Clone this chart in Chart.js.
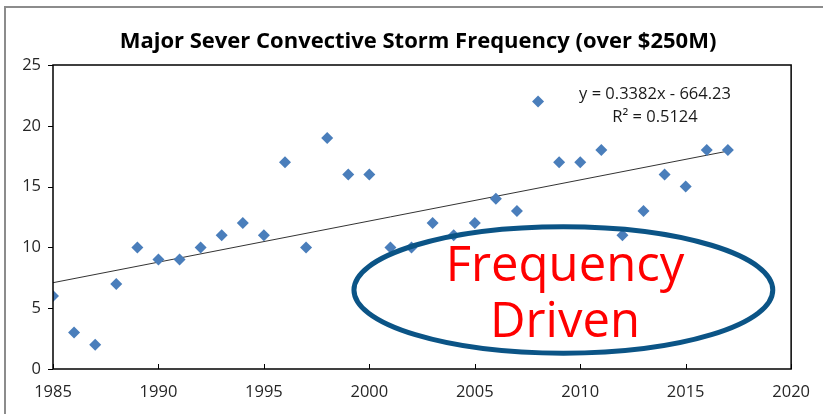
<!DOCTYPE html>
<html>
<head>
<meta charset="utf-8">
<script src="https://cdn.jsdelivr.net/npm/chart.js@4/dist/chart.umd.min.js"></script>
<style>
    html, body { margin: 0; padding: 0; background: #fff; }
    #wrap { width: 823px; height: 414px; }
</style>
</head>
<body>
<div id="wrap"><canvas id="chart" width="823" height="414"></canvas></div>
<script>
// Storm counts per year
const years = [1985, 1986, 1987, 1988, 1989, 1990, 1991, 1992, 1993, 1994, 1995,
    1996, 1997, 1998, 1999, 2000, 2001, 2002, 2003, 2004, 2005, 2006,
    2007, 2008, 2009, 2010, 2011, 2012, 2013, 2014, 2015, 2016, 2017];
const storms = [6, 3, 2, 7, 10, 9, 9, 10, 11, 12, 11,
    17, 10, 19, 16, 16, 10, 10, 12, 11, 12, 14,
    13, 22, 17, 17, 18, 11, 13, 16, 15, 18, 18];

// Linear trend as printed on the chart
const trendSlope = 0.3382;
const trendIntercept = -664.23;
const trendLabels = ['y = 0.3382x - 664.23', 'R\u00b2 = 0.5124'];
const calloutLines = ['Frequency', 'Driven'];
const chartTitle = 'Major Sever Convective Storm Frequency (over $250M)';

const xTicks = [1985, 1990, 1995, 2000, 2005, 2010, 2015, 2020];
const yTicks = [0, 5, 10, 15, 20, 25];

const FONT = "'Open Sans', sans-serif";

const points = years.map((y, i) => ({ x: y, y: storms[i] }));
const trendYears = [years[0], years[years.length - 1]];
const trendPoints = trendYears.map(x => ({ x, y: trendSlope * x + trendIntercept }));

// Outer frame, title, plot box, equation text and the callout ellipse
const decorations = {
    id: 'decorations',
    beforeDraw(chart) {
        const ctx = chart.ctx;
        ctx.save();
        ctx.strokeStyle = '#8c8c8c';
        ctx.lineWidth = 2;
        ctx.beginPath();
        ctx.moveTo(5, 414);
        ctx.lineTo(5, 7);
        ctx.lineTo(823, 7);
        ctx.stroke();

        ctx.fillStyle = '#000';
        ctx.font = 'bold 22px ' + FONT;
        ctx.textAlign = 'center';
        ctx.textBaseline = 'middle';
        ctx.fillText(chartTitle, 418, 42);
        ctx.restore();
    },
    afterDraw(chart) {
        const ctx = chart.ctx;
        const a = chart.chartArea;
        const xs = chart.scales.x;
        const ys = chart.scales.y;
        ctx.save();
        ctx.strokeStyle = '#000';
        ctx.lineWidth = 1.5;
        ctx.strokeRect(a.left, a.top, a.right - a.left, a.bottom - a.top);

        // tick marks
        ctx.lineWidth = 1;
        ctx.beginPath();
        yTicks.forEach(t => {
            const py = Math.round(ys.getPixelForValue(t)) + 0.5;
            ctx.moveTo(a.left - 5, py);
            ctx.lineTo(a.left, py);
        });
        xTicks.forEach(t => {
            const px = Math.round(xs.getPixelForValue(t)) + 0.5;
            ctx.moveTo(px, a.bottom);
            ctx.lineTo(px, a.bottom - 5);
        });
        ctx.stroke();

        // trend equation
        ctx.fillStyle = '#1a1a1a';
        ctx.font = '16.5px ' + FONT;
        ctx.textAlign = 'center';
        ctx.textBaseline = 'alphabetic';
        ctx.fillText(trendLabels[0], 655, 99);
        ctx.fillText(trendLabels[1], 655, 122);

        // callout ellipse, placed in data units
        const cx = xs.getPixelForValue(2009.2);
        const cy = ys.getPixelForValue(6.5);
        const rx = xs.getPixelForValue(2009.2 + 9.93) - cx;
        const ry = cy - ys.getPixelForValue(6.5 + 5.2);
        ctx.strokeStyle = '#0b5486';
        ctx.lineWidth = 5;
        ctx.beginPath();
        ctx.ellipse(cx, cy, rx, ry, 0, 0, Math.PI * 2);
        ctx.stroke();

        ctx.fillStyle = '#ff0000';
        ctx.font = '49px ' + FONT;
        ctx.fillText(calloutLines[0], 565, 281);
        ctx.fillText(calloutLines[1], 565, 337);
        ctx.restore();
    }
};

new Chart(document.getElementById('chart'), {
    type: 'scatter',
    data: {
        datasets: [
            {
                label: 'Storms',
                data: points,
                pointStyle: 'rectRot',
                pointRadius: 6,
                pointBackgroundColor: '#4a7ebb',
                pointBorderColor: '#4a7ebb',
                pointBorderWidth: 0
            },
            {
                label: 'Trend',
                type: 'line',
                data: trendPoints,
                borderColor: '#333',
                borderWidth: 1,
                pointRadius: 0,
                fill: false
            }
        ]
    },
    options: {
        responsive: false,
        animation: false,
        layout: { padding: { left: 5, right: 30, top: 65, bottom: 0 } },
        plugins: {
            legend: { display: false },
            tooltip: { enabled: false },
            title: { display: false }
        },
        scales: {
            x: {
                type: 'linear',
                min: 1985,
                max: 2020,
                afterBuildTicks(scale) { scale.ticks = xTicks.map(v => ({ value: v })); },
                afterFit(scale) { scale.height = 45; },
                grid: { display: false, drawTicks: false },
                border: { display: false },
                ticks: {
                    color: '#262626',
                    font: { family: FONT, size: 16.5 },
                    padding: 13,
                    maxRotation: 0,
                    callback: v => String(v)
                }
            },
            y: {
                min: 0,
                max: 25,
                afterBuildTicks(scale) { scale.ticks = yTicks.map(v => ({ value: v })); },
                afterFit(scale) { scale.width = 48; },
                grid: { display: false, drawTicks: false },
                border: { display: false },
                ticks: {
                    color: '#262626',
                    font: { family: FONT, size: 16.5 },
                    padding: 12
                }
            }
        }
    },
    plugins: [decorations]
});
</script>
</body>
</html>
